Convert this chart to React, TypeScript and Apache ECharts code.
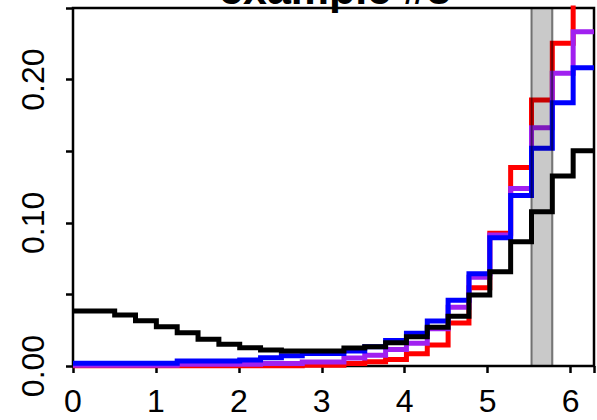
import React, { useEffect, useRef } from "react";
import * as echarts from "echarts";

// bin edges (0 .. 2π in 25 bins)
const binEdges = [
  0, 0.2513, 0.5027, 0.754, 1.0053, 1.2566, 1.508, 1.7593, 2.0106, 2.2619,
  2.5133, 2.7646, 3.0159, 3.2673, 3.5186, 3.7699, 4.0212, 4.2726, 4.5239,
  4.7752, 5.0265, 5.2779, 5.5292, 5.7805, 6.0319, 6.2832,
];

const blackValues = [
  0.0384, 0.0384, 0.0356, 0.0316, 0.0274, 0.0233, 0.0186, 0.0152, 0.0128,
  0.0112, 0.0105, 0.0105, 0.0105, 0.0126, 0.0135, 0.0163, 0.0205, 0.027,
  0.0347, 0.0496, 0.0659, 0.0868, 0.1078, 0.1327, 0.1503,
];
const redValues = [
  0, 0, 0, 0, 0, 0, 0, 0, 0, 0, 0, 0.0005, 0.0005, 0.0018, 0.003, 0.0045,
  0.0085, 0.0147, 0.03, 0.0547, 0.0927, 0.1387, 0.1858, 0.2253, 0.265,
];
const purpleValues = [
  0.0005, 0.0005, 0.0005, 0.0005, 0.0005, 0.0012, 0.0012, 0.0012, 0.0012,
  0.0018, 0.0018, 0.0028, 0.0028, 0.0055, 0.0075, 0.0115, 0.0158, 0.026,
  0.041, 0.062, 0.0915, 0.124, 0.1664, 0.2044, 0.2334,
];
const blueValues = [
  0.002, 0.002, 0.002, 0.002, 0.002, 0.0035, 0.0035, 0.0035, 0.0042, 0.0058,
  0.0072, 0.0088, 0.0088, 0.0105, 0.0135, 0.0178, 0.0228, 0.0314, 0.046,
  0.0645, 0.0895, 0.119, 0.152, 0.1839, 0.2083,
];

const xTickLabels = ["0", "1", "2", "3", "4", "5", "6"];
const yTickLabels = ["0.00", "0.10", "0.20"];
const band = [5.5292, 5.7805];
const titleText = "example #3";

const FONT = "'Liberation Sans', Arial, sans-serif";

function stepData(vals: number[]) {
  const pts: number[][] = vals.map((v, i) => [binEdges[i], v]);
  pts.push([binEdges[vals.length], vals[vals.length - 1]]);
  return pts;
}

function lineSeries(name: string, vals: number[], color: string) {
  return {
    name,
    type: "line",
    step: "end",
    data: stepData(vals),
    showSymbol: false,
    symbol: "none",
    clip: true,
    lineStyle: { color, width: 5, join: "miter", cap: "butt" },
    silent: true,
  };
}

export default function App() {
  const ref = useRef<HTMLDivElement>(null);
  useEffect(() => {
    if (!ref.current) return;
    const chart = echarts.init(ref.current, undefined, { renderer: "svg" });
    const option: any = {
      animation: false,
      grid: {
        left: 73,
        top: 8,
        width: 524.6,
        height: 358,
        show: true,
        borderColor: "#000",
        borderWidth: 2.5,
        backgroundColor: "transparent",
      },
      xAxis: {
        type: "value",
        min: 0,
        max: binEdges[binEdges.length - 1],
        interval: 1,
        axisLine: { show: false },
        axisTick: { show: true, length: 7, lineStyle: { color: "#000", width: 2.5 } },
        splitLine: { show: false },
        axisLabel: {
          margin: 19,
          fontSize: 32,
          fontFamily: FONT,
          color: "#000",
          formatter: (v: number) => {
            const r = Math.round(v);
            if (Math.abs(v - r) > 1e-6) return "";
            return xTickLabels[r] ?? "";
          },
        },
      },
      yAxis: {
        type: "value",
        min: 0,
        max: 0.25,
        interval: 0.05,
        axisLine: { show: false },
        axisTick: { show: true, length: 7, lineStyle: { color: "#000", width: 2.5 } },
        splitLine: { show: false },
        axisLabel: {
          rotate: 90,
          margin: 24,
          fontSize: 32,
          fontFamily: FONT,
          color: "#000",
          formatter: (v: number) => {
            const r = Math.round(v * 10);
            if (Math.abs(v * 10 - r) > 1e-6) return "";
            return yTickLabels[r] ?? "";
          },
        },
      },
      series: [
        lineSeries("red", redValues, "#ff0000"),
        lineSeries("purple", purpleValues, "#a020f0"),
        lineSeries("blue", blueValues, "#0000ff"),
        lineSeries("black", blackValues, "#000000"),
        {
          type: "line",
          data: [],
          silent: true,
          z: 10,
          markArea: {
            silent: true,
            z: 10,
            itemStyle: {
              color: "rgba(0,0,0,0.21)",
              borderColor: "rgba(0,0,0,0.5)",
              borderWidth: 2,
            },
            data: [[{ xAxis: band[0] }, { xAxis: band[1] }]],
          },
        },
      ],
      graphic: [
        {
          type: "text",
          x: 335,
          y: -11,
          style: {
            text: titleText,
            fontSize: 43,
            fontWeight: "bold",
            fontFamily: FONT,
            fill: "#000",
            textAlign: "center",
            textVerticalAlign: "middle",
          },
        },
      ],
    };
    chart.setOption(option);
    return () => chart.dispose();
  }, []);
  return (
    <div
      ref={ref}
      style={{ position: "absolute", left: 0, top: 0, width: 597, height: 420 }}
    />
  );
}
